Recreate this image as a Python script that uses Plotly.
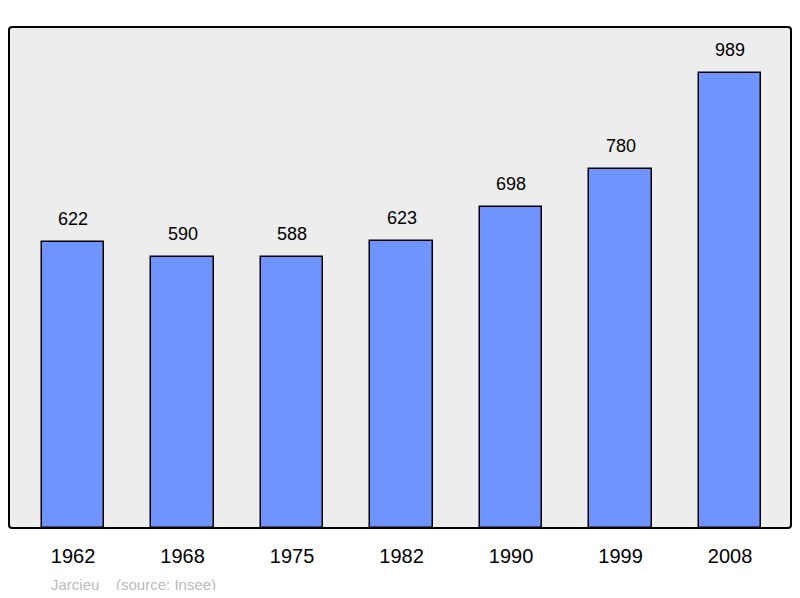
import plotly.graph_objects as go

years = ["1962", "1968", "1975", "1982", "1990", "1999", "2008"]
population = [622, 590, 588, 623, 698, 780, 989]
commune = "Jarcieu"
source = "(source: Insee)"

fig = go.Figure()
fig.add_trace(go.Bar(
    x=list(range(len(years))), y=population, width=0.57,
    marker=dict(color="#7094ff", line=dict(color="black", width=1.5)),
))
labels = [dict(x=i, y=v, xref="x", yref="y", text=str(v), showarrow=False,
               yshift=23, yanchor="middle",
               font=dict(size=18, color="black"))
          for i, v in enumerate(population)]
fig.update_layout(
    width=784, height=582,
    margin=dict(l=1, r=1, t=19, b=62),
    paper_bgcolor="white", plot_bgcolor="#ededed",
    font=dict(family="Liberation Sans, Arial", color="black"),
    showlegend=False, bargap=0,
    xaxis=dict(range=[-0.585, 6.557], tickmode="array",
               tickvals=list(range(len(years))), ticktext=years,
               tickfont=dict(size=20), showgrid=False, zeroline=False,
               showline=False, ticks="", ticklabelstandoff=14),
    yaxis=dict(range=[0, 1089], visible=False),
    shapes=[dict(type="path", xref="paper", yref="paper",
                 path="M 0.004,0 L 0.996,0 Q 1,0 1,0.006 L 1,0.994 Q 1,1 0.996,1 "
                      "L 0.004,1 Q 0,1 0,0.994 L 0,0.006 Q 0,0 0.004,0 Z",
                 line=dict(color="black", width=2))],
    annotations=labels + [dict(xref="paper", yref="paper", x=0.051, y=-0.112,
                      xanchor="left", yanchor="middle", showarrow=False,
                      text=commune + "&nbsp;&nbsp;&nbsp;&nbsp;" + source,
                      font=dict(size=15, color="#bbbbbb"))],
)
fig.write_html("out.html")
